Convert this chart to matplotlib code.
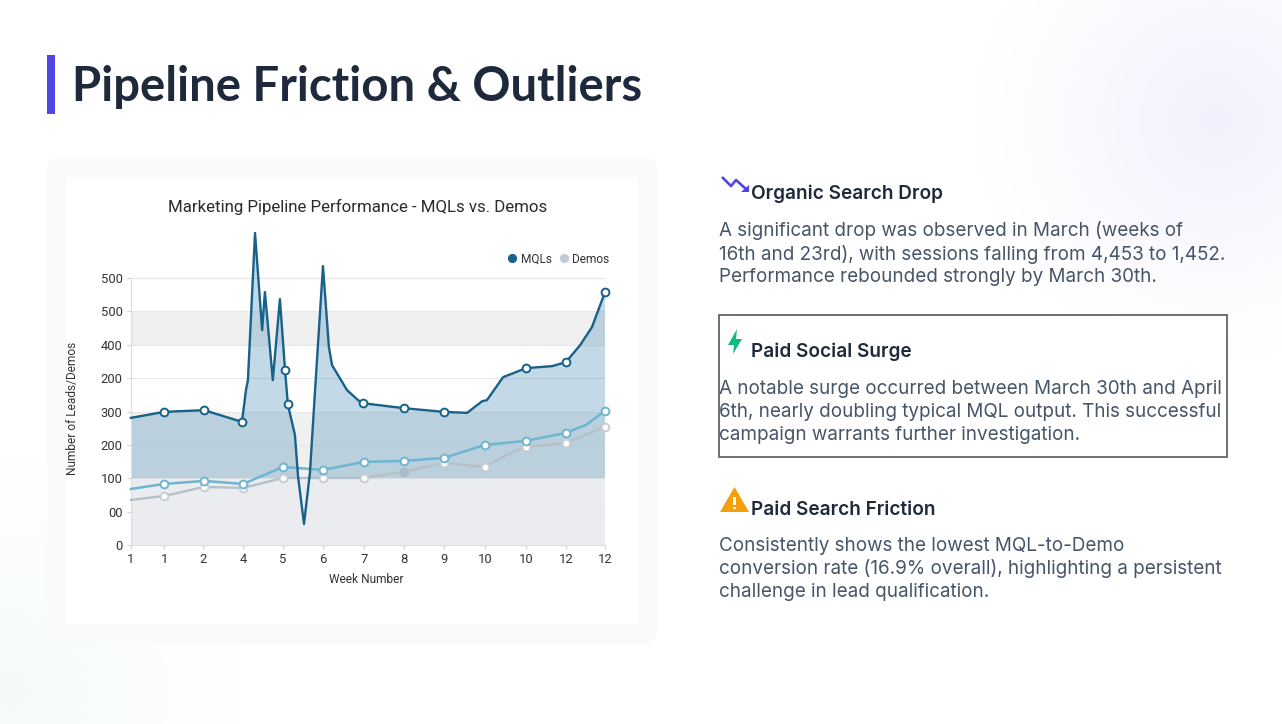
import numpy as np
import matplotlib
matplotlib.use('Agg')
import matplotlib.pyplot as plt
from matplotlib.lines import Line2D
from matplotlib.patches import FancyBboxPatch, Polygon, Rectangle

W, H = 1282, 724

# chart data, x is in week slots along the axis
mql_x = [0, 0.84, 1.85, 2.81, 2.91, 2.96, 3.14, 3.32, 3.39, 3.59, 3.77, 3.90, 3.97, 4.15, 4.23,
         4.38, 4.53, 4.66, 4.86, 5.01, 5.09, 5.47, 5.75, 5.87, 6.91, 7.92, 8.51, 8.89, 9.01,
         9.42, 10.0, 10.66, 11.01, 11.37, 11.67, 12.0]
mql_y = [381, 399, 404, 369, 464, 494, 935, 644, 758, 494, 737, 524, 422, 330, 204,
         63, 216, 464, 836, 593, 539, 464, 434, 425, 410, 399, 396, 431, 434,
         503, 530, 536, 548, 599, 653, 758]
mql_marked = [1, 2, 3, 11, 12, 23, 24, 25, 30, 32, 35]

teal_x = [0, 0.84, 1.85, 2.84, 3.85, 4.86, 5.90, 6.91, 7.92, 8.96, 10.0, 11.01, 11.52, 12.0]
teal_y = [168, 183, 192, 183, 234, 225, 249, 252, 261, 300, 312, 336, 360, 402]
teal_marked = [1, 2, 3, 4, 5, 6, 7, 8, 9, 10, 11, 13]

demo_x = [0, 0.84, 1.85, 2.84, 3.85, 4.86, 5.90, 6.91, 7.92, 8.96, 9.62, 10.0, 11.01, 12.0]
demo_y = [135, 147, 174, 171, 201, 201, 201, 219, 246, 234, 276, 294, 306, 354]
demo_marked = [1, 2, 3, 4, 5, 6, 8, 9, 11, 12, 13]

tick_pos = [0, 0.84, 1.82, 2.84, 3.85, 4.86, 5.90, 6.91, 7.92, 8.96, 10.0, 11.01, 12.0]
tick_weeks = ['1', '1', '2', '4', '5', '6', '7', '8', '9', '10', '10', '12', '12']
level_pos = [0, 100, 200, 300, 400, 500, 600, 700, 800]
level_labels = ['0', '00', '100', '200', '300', '200', '400', '500', '500']

title = 'Pipeline Friction & Outliers'
chart_title = 'Marketing Pipeline Performance - MQLs vs. Demos'
notes = [
    ('Organic Search Drop', 194, 231,
     ['A significant drop was observed in March (weeks of',
      '16th and 23rd), with sessions falling from 4,453 to 1,452.',
      'Performance rebounded strongly by March 30th.']),
    ('Paid Social Surge', 352, 389,
     ['A notable surge occurred between March 30th and April',
      '6th, nearly doubling typical MQL output. This successful',
      'campaign warrants further investigation.']),
    ('Paid Search Friction', 510, 546,
     ['Consistently shows the lowest MQL-to-Demo',
      'conversion rate (16.9% overall), highlighting a persistent',
      'challenge in lead qualification.']),
]

INDIGO = '#4f46e5'
DARK = '#1e293b'
BODY = '#475569'
MQL = '#17618a'
TEAL = '#6db5d1'
DEMO = '#b5c0c9'

fig = plt.figure(figsize=(W / 100, H / 100), dpi=100)

# slide layer, drawn in pixel units
bg = fig.add_axes([0, 0, 1, 1], zorder=0)
bg.set_xlim(0, W)
bg.set_ylim(H, 0)
bg.axis('off')

yy, xx = np.mgrid[0:H, 0:W]
wash = np.ones((H, W, 3))
for cx, cy, rad, col in [(1215, 120, 240, (0.95, 0.94, 0.99)),
                         (10, 690, 230, (0.955, 0.985, 0.97))]:
    d = np.clip(1 - np.hypot(xx - cx, yy - cy) / rad, 0, 1)[..., None] ** 1.2
    wash = wash * (1 - d) + np.array(col) * d
bg.imshow(wash, extent=(0, W, H, 0), aspect='auto', zorder=0)

bg.add_patch(Rectangle((47, 55), 8, 59, color=INDIGO, lw=0, zorder=1))
bg.text(72, 87, title, fontsize=34, family='Lato', weight='bold', color=DARK, va='center', zorder=2)

bg.add_patch(FancyBboxPatch((47, 157), 610, 487, boxstyle='round,pad=0,rounding_size=16',
                            fc='#f8fafc', lw=0, zorder=1))
bg.add_patch(Rectangle((67, 177), 570, 448, fc='white', lw=0, zorder=1))
bg.text(358, 207, chart_title, fontsize=12.15, family='Roboto', color='#2b2b2b', ha='center', va='center', zorder=2)

# boxed note
bg.add_patch(Rectangle((719, 315), 508, 142, fc='white', ec='#6f6f6f', lw=1.4, zorder=1))

for head, head_y, body_y, lines in notes:
    bg.text(751, head_y, head, fontsize=13.7, family='Inter', weight='semibold', color=DARK, va='center', zorder=3)
    for i, line in enumerate(lines):
        bg.text(719, body_y + i * 23, line, fontsize=13.58, family='Inter', color=BODY, va='center', zorder=3)

# note icons
bg.plot([722, 731, 736, 747], [177, 186, 180, 190], color=INDIGO, lw=1.9, zorder=3, solid_capstyle='butt')
bg.add_patch(Polygon([(749, 185), (749, 192), (741, 192)], fc=INDIGO, lw=0, zorder=3))
bg.add_patch(Polygon([(737, 329), (728, 345), (734, 345), (733, 354), (742, 339), (736, 339)],
                     fc='#10b981', lw=0, zorder=3))
bg.add_patch(Polygon([(720, 512), (749, 512), (734.5, 487)], fc='#f59e0b', lw=0, zorder=3))
bg.add_patch(Rectangle((733.3, 497), 2.4, 8, fc='white', lw=0, zorder=4))
bg.add_patch(Rectangle((733.3, 506.5), 2.4, 2.4, fc='white', lw=0, zorder=4))

# chart layer
ax = fig.add_axes([131 / W, 1 - 545 / H, (605 - 131) / W, (545 - 228) / H], zorder=1)
ax.patch.set_alpha(0)
ax.set_xlim(0, 12)
ax.set_ylim(0, 950)

ax.axhspan(600, 700, color='#f0f0f0', lw=0, zorder=1)
ax.axhspan(200, 400, color='#f0f0f0', lw=0, zorder=1)
ax.axhspan(0, 200, color='#eaecf0', lw=0, zorder=1)
for lv in level_pos[1:]:
    ax.axhline(lv, color='#e8e8e8', lw=0.9, zorder=1.5)

mx = np.array(mql_x)
my = np.array(mql_y)
ax.fill_between(mx, my, 200, where=my >= 200, interpolate=True, color='#5c98be', alpha=0.36, lw=0, zorder=2)

marker = dict(marker='o', mfc='white', ms=5.6, mew=1.4, clip_on=False)
ax.plot(demo_x, demo_y, color=DEMO, lw=1.7, mec='#c6ced5', markevery=demo_marked, zorder=3, **marker)
# week 8 point is drawn solid
ax.plot(demo_x[7], demo_y[7], 'o', color='#a9bcc9', ms=6, zorder=3.1)
ax.plot(teal_x, teal_y, color=TEAL, lw=1.8, mec=TEAL, markevery=teal_marked, zorder=4, **marker)
ax.plot(mx, my, color=MQL, lw=1.7, mec=MQL, markevery=mql_marked, zorder=5, **marker)

for side in ['top', 'right']:
    ax.spines[side].set_visible(False)
for side in ['left', 'bottom']:
    ax.spines[side].set_color('#dddddd')
ax.spines['left'].set_bounds(0, 800)
ax.set_xticks(tick_pos, tick_weeks)
ax.set_yticks(level_pos, level_labels)
ax.tick_params(length=3, width=0.8, color='#d5d5d5', labelsize=9.4, labelcolor='#333333', pad=3)
for lab in ax.get_xticklabels() + ax.get_yticklabels():
    lab.set_family('Roboto')
ax.set_xlabel('Week Number', fontsize=8.6, family='Roboto', color='#333333')
ax.xaxis.set_label_coords(0.496, -0.089)
ax.set_ylabel('Number of Leads/Demos', fontsize=8.6, family='Roboto', color='#333333')
ax.yaxis.set_label_coords(-0.11, 0.43)

handles = [Line2D([], [], ls='', marker='o', color=MQL, ms=5.6),
           Line2D([], [], ls='', marker='o', color='#bccbd8', ms=5.6)]
ax.legend(handles, ['MQLs', 'Demos'], ncol=2, frameon=False, loc='center right',
          bbox_to_anchor=(1.009, 0.902), handlelength=0.7, handletextpad=0.35, columnspacing=0.65,
          borderaxespad=0, borderpad=0, prop={'family': 'Roboto', 'size': 8.6}, labelcolor='#333333')

fig.savefig('out.png', dpi=100)
